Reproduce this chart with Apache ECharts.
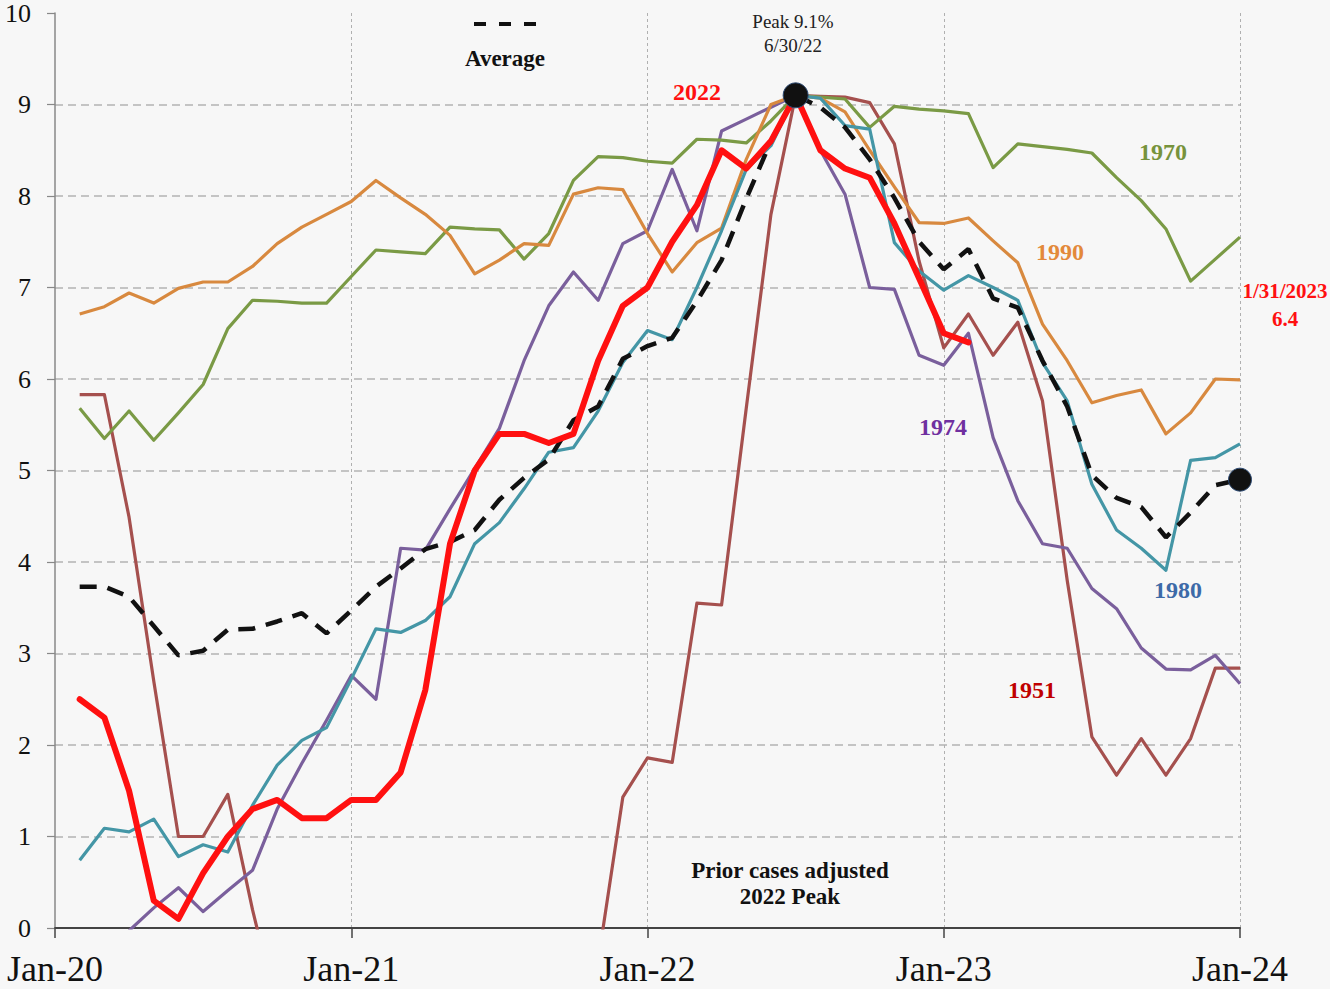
<!DOCTYPE html>
<html>
<head>
<meta charset="utf-8">
<script src="https://cdn.jsdelivr.net/npm/echarts@6/dist/echarts.min.js"></script>
<style>
  html, body { margin: 0; padding: 0; background: #f7f7f7; }
  #chart { width: 1330px; height: 989px; }
</style>
</head>
<body>
<div id="chart"></div>
<script>
// x axis: months since Jan-20 (0..48), values are month-end readings 1..48
const tickLabels = ['Jan-20', 'Jan-21', 'Jan-22', 'Jan-23', 'Jan-24']

// CPI YoY, % (prior cases adjusted to the 2022 peak)
const infl2022 = [2.5, 2.3, 1.5, 0.3, 0.1, 0.6, 1.0, 1.3, 1.4, 1.2, 1.2, 1.4,
  1.4, 1.7, 2.6, 4.2, 5.0, 5.4, 5.4, 5.3, 5.4, 6.2, 6.8, 7.0,
  7.5, 7.9, 8.5, 8.3, 8.6, 9.1, 8.5, 8.3, 8.2, 7.7, 7.1, 6.5, 6.4]

const case1970 = [5.68, 5.35, 5.65, 5.33, 5.63, 5.94, 6.55, 6.86, 6.85, 6.83, 6.83, 7.12,
  7.41, 7.39, 7.37, 7.66, 7.64, 7.63, 7.31, 7.59, 8.17, 8.43, 8.42, 8.38,
  8.36, 8.62, 8.61, 8.58, 8.82, 9.1, 9.08, 9.06, 8.75, 8.98, 8.95, 8.93,
  8.9, 8.31, 8.57, 8.54, 8.51, 8.47, 8.2, 7.95, 7.64, 7.07, 7.31, 7.55]

const case1990 = [6.71, 6.79, 6.94, 6.83, 6.99, 7.06, 7.06, 7.23, 7.48, 7.66, 7.8, 7.94,
  8.17, 7.98, 7.8, 7.57, 7.15, 7.3, 7.48, 7.46, 8.02, 8.09, 8.07, 7.59,
  7.17, 7.49, 7.65, 8.4, 9.0, 9.1, 9.07, 8.92, 8.5, 8.1, 7.71, 7.7,
  7.76, 7.51, 7.27, 6.6, 6.2, 5.74, 5.82, 5.88, 5.4, 5.63, 6.0, 5.99]

const case1980 = [0.74, 1.09, 1.05, 1.19, 0.78, 0.91, 0.83, 1.34, 1.78, 2.05, 2.19, 2.72,
  3.27, 3.23, 3.36, 3.62, 4.2, 4.43, 4.8, 5.2, 5.25, 5.65, 6.18, 6.53,
  6.43, 7.0, 7.62, 8.29, 8.55, 9.1, 9.07, 8.77, 8.73, 7.49, 7.18, 6.97,
  7.13, 7.0, 6.86, 6.18, 5.76, 4.85, 4.35, 4.15, 3.91, 5.11, 5.14, 5.29]

const case1974 = [null, null, -0.03, 0.22, 0.44, 0.18, 0.41, 0.63, 1.3, 1.8, 2.27, 2.76,
  2.5, 4.15, 4.13, 4.58, 5.02, 5.46, 6.2, 6.8, 7.17, 6.86, 7.48, 7.62,
  8.29, 7.62, 8.71, 8.84, 8.97, 9.1, 8.5, 8.02, 7.0, 6.98, 6.26, 6.15,
  6.5, 5.36, 4.67, 4.2, 4.15, 3.71, 3.49, 3.06, 2.83, 2.82, 2.98, 2.67]

// below zero it leaves the chart
const case1951 = [5.83, 5.83, 4.49, 2.7, 1.0, 1.0, 1.46, 0.2, -0.9, null, null, null,
  null, null, null, null, null, null, null, null, null, -0.36, 1.43, 1.86,
  1.81, 3.55, 3.53, 5.68, 7.8, 9.1, 9.09, 9.08, 9.02, 8.57, 7.29, 6.34,
  6.71, 6.26, 6.62, 5.76, 3.8, 2.09, 1.67, 2.07, 1.67, 2.07, 2.84, 2.84]

const average = [3.73, 3.73, 3.62, 3.3, 2.98, 3.03, 3.26, 3.27, 3.35, 3.44, 3.22, 3.47,
  3.73, 3.93, 4.14, 4.22, 4.35, 4.68, 4.92, 5.12, 5.55, 5.7, 6.22, 6.36,
  6.45, 6.85, 7.3, 7.97, 8.6, 9.1, 8.97, 8.75, 8.4, 7.98, 7.5, 7.2,
  7.42, 6.88, 6.78, 6.2, 5.7, 4.95, 4.7, 4.6, 4.27, 4.54, 4.84, 4.9]

const toPoints = arr => arr.map((v, i) => [i + 1, v])

const serif = '"Liberation Serif", "DejaVu Serif", serif'

const chartInstance = echarts.init(document.getElementById('chart'), null, { renderer: 'svg' })

const lineSeries = (name, arr, color, width) => ({
    name: name,
    type: 'line',
    data: toPoints(arr),
    showSymbol: false,
    symbol: 'none',
    clip: true,
    lineStyle: { color: color, width: width, join: 'round' },
})

const peakVal = Math.max(...infl2022)
const peakPoint = [infl2022.indexOf(peakVal) + 1, peakVal]
const endPoint = [average.length, average[average.length - 1]]

// annotation text
const label = (text, x, y, color, size, bold) => ({
    type: 'text',
    z: 100,
    style: {
        text: text,
        x: x,
        y: y,
        fill: color,
        font: (bold ? 'bold ' : '') + size + 'px ' + serif,
        textAlign: 'center',
        textVerticalAlign: 'middle'
    }
})

const option = {
    animation: false,
    backgroundColor: '#f7f7f7',
    grid: {
        left: 55,
        right: 90,
        top: 12,
        bottom: 61,
        containLabel: false
    },
    xAxis: {
        type: 'value',
        min: 0,
        max: 48,
        interval: 12,
        axisLine: { show: true, lineStyle: { color: '#444', width: 2 } },
        axisTick: { show: true, length: 10, lineStyle: { color: '#444', width: 1.5 } },
        axisLabel: {
            formatter: v => tickLabels[v / 12],
            fontFamily: serif,
            fontSize: 36,
            color: '#111',
            margin: 23
        },
        splitLine: {
            show: true,
            showMinLine: false,
            lineStyle: { type: [3, 3], color: '#b0b0b0', width: 1 }
        }
    },
    yAxis: {
        type: 'value',
        min: 0,
        max: 10,
        interval: 1,
        axisLine: { show: true, lineStyle: { color: '#888', width: 1.5 } },
        axisTick: { show: true, length: 8, lineStyle: { color: '#888', width: 1.2 } },
        axisLabel: {
            fontFamily: serif,
            fontSize: 26,
            color: '#111',
            margin: 24
        },
        splitLine: {
            show: true,
            showMaxLine: false,
            lineStyle: { type: [8, 5], color: '#b4b4b4', width: 1.5 }
        }
    },
    series: [
        lineSeries('1951', case1951, '#a5504e', 3.2),
        lineSeries('1974', case1974, '#7a5f9c', 3.2),
        lineSeries('1970', case1970, '#7a9a45', 3.2),
        lineSeries('1990', case1990, '#d8893f', 3.2),
        lineSeries('1980', case1980, '#4496a6', 3.2),
        {
            name: 'Average',
            type: 'line',
            data: toPoints(average),
            showSymbol: false,
            symbol: 'none',
            lineStyle: { color: '#111', width: 4.5, type: [17, 11] }
        },
        {
            name: '2022',
            type: 'line',
            data: toPoints(infl2022),
            showSymbol: false,
            symbol: 'none',
            lineStyle: { color: '#ff1010', width: 6, cap: 'round', join: 'round' }
        },
        {
            name: 'dots',
            type: 'scatter',
            data: [
                { value: peakPoint, symbolSize: 25 },
                { value: endPoint, symbolSize: 23 }
            ],
            itemStyle: { color: '#111', opacity: 1, borderColor: '#2d4a72', borderWidth: 1 },
            z: 10
        }
    ],
    graphic: [
        label('Peak 9.1%', 793, 21, '#222', 19, false),
        label('6/30/22', 793, 45, '#222', 19, false),
        {
            type: 'line',
            z: 100,
            shape: { x1: 474, y1: 24, x2: 536, y2: 24 },
            style: { stroke: '#111', lineWidth: 4, lineDash: [12, 13] }
        },
        label('Average', 505, 58, '#111', 23, true),
        label('2022', 697, 92, '#ff1010', 24, true),
        label('1970', 1163, 152, '#77933c', 24, true),
        label('1990', 1060, 252, '#e3893a', 24, true),
        label('1/31/2023', 1285, 291, '#ff1010', 21, true),
        label('6.4', 1285, 319, '#ff1010', 21, true),
        label('1974', 943, 427, '#7030a0', 24, true),
        label('1980', 1178, 590, '#3d6aa8', 24, true),
        label('1951', 1032, 690, '#c00000', 24, true),
        label('Prior cases adjusted', 790, 870, '#111', 23, true),
        label('2022 Peak', 790, 896, '#111', 23, true)
    ]
}

chartInstance.setOption(option)
</script>
</body>
</html>
